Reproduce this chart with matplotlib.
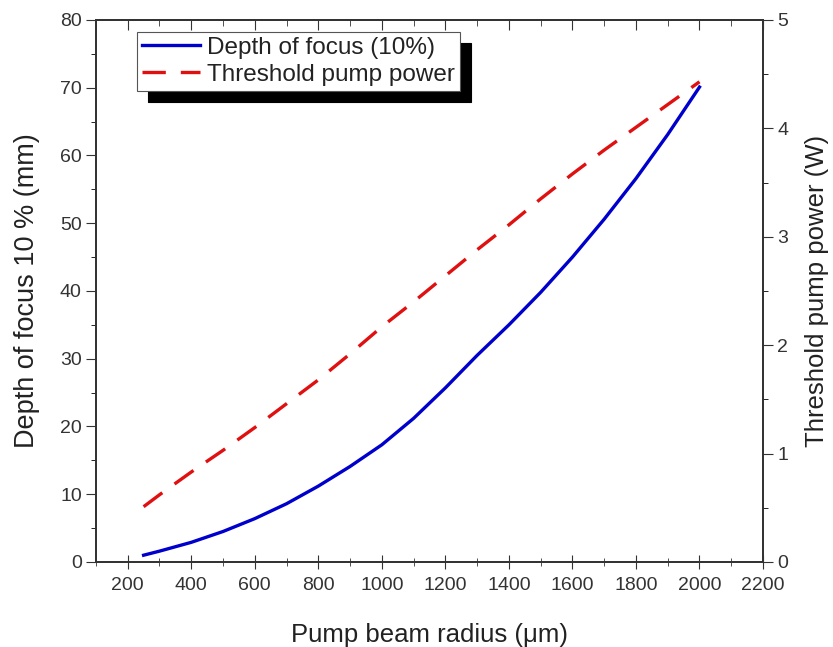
import matplotlib.pyplot as plt
from matplotlib.ticker import MultipleLocator

plt.rcParams['font.family'] = ['Liberation Sans', 'DejaVu Sans']

# Pump beam radius (um)
radius = [250, 300, 400, 500, 600, 700, 800, 900, 1000, 1100, 1200, 1300,
          1400, 1500, 1600, 1700, 1800, 1900, 2000]
# Depth of focus 10 % (mm)
depth = [1.0, 1.6, 2.9, 4.5, 6.4, 8.6, 11.2, 14.1, 17.3, 21.2, 25.7, 30.5,
         35.0, 39.8, 45.0, 50.6, 56.6, 63.1, 70.1]
# Threshold pump power (W)
power = [0.51, 0.62, 0.83, 1.03, 1.24, 1.46, 1.68, 1.92, 2.17, 2.40, 2.64,
         2.88, 3.11, 3.35, 3.58, 3.80, 4.01, 4.22, 4.43]

fig = plt.figure(figsize=(8.33, 6.47), dpi=100)
ax = fig.add_axes([0.1152, 0.1314, 0.8008, 0.8377])
ax2 = ax.twinx()

l1, = ax.plot(radius, depth, color='#0000cc', lw=2.4, label='Depth of focus (10%)')
l2, = ax2.plot(radius, power, color='#e01010', lw=2.4, ls=(0, (7, 4.5)),
               label='Threshold pump power')

ax.set_xlim(100, 2200)
ax.set_ylim(0, 80)
ax2.set_ylim(0, 5)
ax.xaxis.set_major_locator(MultipleLocator(200))
ax.xaxis.set_minor_locator(MultipleLocator(100))
ax.yaxis.set_major_locator(MultipleLocator(10))
ax.yaxis.set_minor_locator(MultipleLocator(5))
ax2.yaxis.set_major_locator(MultipleLocator(1))
ax2.yaxis.set_minor_locator(MultipleLocator(0.5))

# top axis: ticks only, pointing inward
top = ax.secondary_xaxis('top')
top.xaxis.set_major_locator(MultipleLocator(200))
top.xaxis.set_minor_locator(MultipleLocator(100))
top.tick_params(which='both', direction='in', labeltop=False, colors='#333333')
top.tick_params(which='major', length=7)
top.tick_params(which='minor', length=4)
top.spines['top'].set_linewidth(1.3)
top.spines['top'].set_color('#333333')

ax.tick_params(axis='x', which='both', direction='inout', labelsize=14,
               colors='#333333', pad=6)
ax.tick_params(axis='x', which='major', length=10)
ax.tick_params(axis='x', which='minor', length=6)
ax.tick_params(axis='y', which='major', direction='out', length=7.2,
               labelsize=14, colors='#333333', pad=3)
ax.tick_params(axis='y', which='minor', direction='out', length=3.6)
ax2.tick_params(axis='y', which='major', direction='out', length=7.2,
                labelsize=14, colors='#333333', pad=3)
ax2.tick_params(axis='y', which='minor', direction='out', length=3.6)

for a in (ax, ax2):
    for s in a.spines.values():
        s.set_linewidth(1.3)
        s.set_color('#333333')

ax.set_xlabel('Pump beam radius (\u03bcm)', fontsize=18.5, labelpad=21,
              color='#222222')
ax.set_ylabel('Depth of focus 10 % (mm)', fontsize=19.5, labelpad=14,
              color='#222222')
ax2.set_ylabel('Threshold pump power (W)', fontsize=18.5, labelpad=12,
               color='#222222')

leg = ax.legend(handles=[l1, l2], loc='upper left', bbox_to_anchor=(0.061, 0.978),
                fontsize=17.5, fancybox=False, framealpha=1, edgecolor='#555555',
                handlelength=2.4, handletextpad=0.3, borderpad=0.2,
                labelspacing=0.2, borderaxespad=0,
                shadow={'color': 'black', 'alpha': 1, 'ox': 8, 'oy': -8})
leg.get_frame().set_linewidth(0.8)
for t in leg.get_texts():
    t.set_color('#222222')

fig.savefig('out.png', dpi=100)
